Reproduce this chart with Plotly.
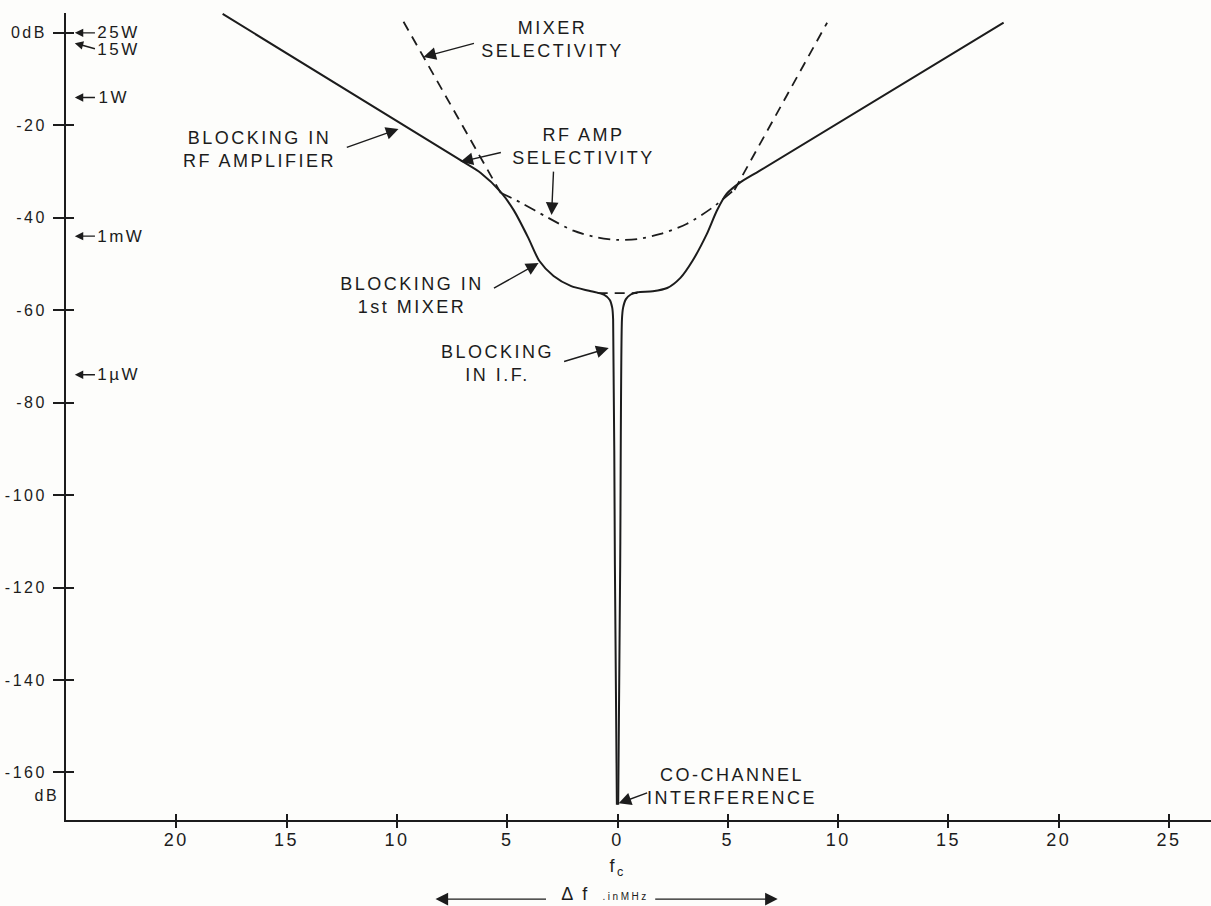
import numpy as np
import plotly.graph_objects as go

INK = "#1c1c1c"
FONT = "Liberation Sans, Arial, sans-serif"

# Frequency offset from the carrier fc (MHz) and interfering level (dB)
# Overall blocking curve, left branch (down into the I.F. notch)
blk_left_f = [-17.9, -7.1, -6.2, -5.3, -4.7, -4.05, -3.55, -2.9, -2.1, -1.2,
              -0.6, -0.35, -0.24, -0.2, -0.12, -0.03]
blk_left_db = [4.1, -27.6, -30.3, -34.4, -38.4, -44.3, -49.3, -52.6, -54.8, -55.9,
               -56.7, -57.8, -59.5, -62.0, -115.0, -167.0]
# Overall blocking curve, right branch (up out of the notch)
blk_right_f = [0.03, 0.12, 0.2, 0.25, 0.38, 0.6, 0.9, 1.6, 2.25, 2.85, 3.4,
               4.05, 4.5, 4.95, 5.55, 6.45, 17.5]
blk_right_db = [-167.0, -115.0, -62.0, -59.5, -57.6, -56.6, -56.1, -55.9, -55.2,
                -53.0, -49.3, -43.5, -38.5, -34.8, -32.4, -29.8, 2.2]

# Mixer selectivity (dashed) - visible skirts and the flat bottom
mix_f = [-9.7, -5.3, None, -0.9, 0.9, None, 5.3, 9.5]
mix_db = [2.4, -34.6, None, -56.3, -56.3, None, -34.0, 2.2]

# RF amplifier selectivity (dash-dot)
rf_f = [-5.3, -4.4, -3.15, -2.0, -0.9, 0.0, 0.9, 1.95, 3.15, 4.3, 5.25]
rf_db = [-34.6, -36.7, -40.0, -42.8, -44.3, -44.8, -44.6, -43.5, -41.3, -37.8, -34.1]

# Axis ticks
x_ticks = [-20, -15, -10, -5, 0, 5, 10, 15, 20, 25]
x_ticktext = [str(abs(v)) for v in x_ticks]
y_ticks = [0, -20, -40, -60, -80, -100, -120, -140, -160]
y_ticktext = ["0dB"] + [str(v) for v in y_ticks[1:]]

# Transmitter powers marked on the level axis (0 dB = 25 W)
power_w = [25, 15, 1, 1e-3, 1e-6]
power_txt = ["25W", "15W", "1W", "1mW", "1µW"]
power_db = [10 * np.log10(p / 25) for p in power_w]

X_RANGE = [-25, 26.9]
Y_RANGE = [-170.3, 4.3]

fig = go.Figure()

line_style = dict(color=INK, width=2)
fig.add_trace(go.Scatter(x=blk_left_f, y=blk_left_db, mode="lines",
                         line=dict(**line_style, shape="spline", smoothing=0.7),
                         hoverinfo="skip"))
fig.add_trace(go.Scatter(x=blk_right_f, y=blk_right_db, mode="lines",
                         line=dict(**line_style, shape="spline", smoothing=0.7),
                         hoverinfo="skip"))
fig.add_trace(go.Scatter(x=mix_f, y=mix_db, mode="lines", connectgaps=False,
                         line=dict(color=INK, width=1.8, dash="10px,7px"),
                         hoverinfo="skip"))
fig.add_trace(go.Scatter(x=rf_f, y=rf_db, mode="lines",
                         line=dict(color=INK, width=1.8, dash="12px,6px,3px,6px",
                                   shape="spline", smoothing=0.8),
                         hoverinfo="skip"))
# empty trace so the overlaid tick axes are drawn
fig.add_trace(go.Scatter(x=[], y=[], xaxis="x2", yaxis="y2", hoverinfo="skip"))


def arrow_style(size=1.8):
    return dict(showarrow=True, arrowhead=2, arrowsize=size, arrowwidth=1.4,
                arrowcolor=INK, standoff=0, startstandoff=0)


def label(text, x, y, size=18, **kw):
    return dict(text=text, x=x, y=y, xref="x", yref="y", showarrow=False,
                font=dict(size=size, color=INK, family=FONT), **kw)


def pointer(tail, tip, size=1.8):
    return dict(text="", x=tip[0], y=tip[1], ax=tail[0], ay=tail[1],
                xref="x", yref="y", axref="x", ayref="y", **arrow_style(size))


annotations = [
    label("MIXER<br>SELECTIVITY", -2.95, -1.4),
    pointer((-6.44, -2.2), (-8.8, -5.2)),
    label("RF AMP<br>SELECTIVITY", -1.54, -24.5),
    pointer((-5.22, -25.8), (-7.12, -27.9)),
    pointer((-2.9, -29.7), (-2.99, -39.4)),
    label("BLOCKING IN<br>RF AMPLIFIER", -16.24, -25.3),
    pointer((-12.34, -24.9), (-9.93, -20.8)),
    label("BLOCKING IN<br>1st MIXER", -9.3, -56.9),
    pointer((-5.67, -55.4), (-3.58, -49.8)),
    label("BLOCKING<br>IN I.F.", -5.44, -71.6),
    pointer((-2.49, -71.2), (-0.4, -68.2)),
    label("CO-CHANNEL<br>INTERFERENCE", 5.17, -163.0),
    pointer((1.41, -164.3), (0.05, -166.7)),
    # unit under the last level tick
    dict(text="dB", x=-0.006, y=-164.9, xref="paper", yref="y", xanchor="right",
         showarrow=False, font=dict(size=16, color=INK, family=FONT)),
    # carrier marker and frequency offset legend below the axis
    dict(text="f<sub>c</sub>", x=0, y=-0.076, xref="x", yref="paper",
         showarrow=False, font=dict(size=18, color=INK, family=FONT)),
    dict(text="Δ f <span style='font-size:10px'> .inMHz</span>", x=-0.55, y=-0.107,
         xref="x", yref="paper", showarrow=False,
         font=dict(size=18, color=INK, family=FONT)),
    dict(text="", x=-8.25, y=-0.098, xref="x", yref="paper", ax=112, ay=0,
         axref="pixel", ayref="pixel", **arrow_style()),
    dict(text="", x=7.26, y=-0.098, xref="x", yref="paper", ax=-124, ay=0,
         axref="pixel", ayref="pixel", **arrow_style()),
]

# power markers along the level axis
for txt, db in zip(power_txt, power_db):
    drop = 1.3 if txt == "15W" else 0.0
    annotations.append(label(txt, -23.5, db - drop, size=17, xanchor="left"))
    annotations.append(pointer((-23.62, db - drop), (-24.6, db), size=1.2))

fig.update_layout(
    width=1211, height=906,
    margin=dict(l=66, r=0, t=13, b=86),
    paper_bgcolor="#fdfdfb", plot_bgcolor="#fdfdfb",
    showlegend=False,
    font=dict(family=FONT, color=INK),
    annotations=annotations,
    xaxis=dict(range=X_RANGE, showgrid=False, zeroline=False, showline=True,
               linecolor=INK, linewidth=1.8, tickvals=x_ticks, ticktext=x_ticktext,
               ticks="outside", ticklen=6, tickwidth=1.6, tickcolor=INK,
               tickfont=dict(size=18, color=INK), ticklabelstandoff=-4),
    yaxis=dict(range=Y_RANGE, showgrid=False, zeroline=False, showline=True,
               linecolor=INK, linewidth=1.8, tickvals=y_ticks, ticktext=y_ticktext,
               ticks="outside", ticklen=11, tickwidth=1.6, tickcolor=INK,
               tickfont=dict(size=16, color=INK), ticklabelstandoff=3),
    xaxis2=dict(range=X_RANGE, overlaying="x", anchor="y", side="bottom",
                showgrid=False, zeroline=False, showline=False, tickvals=x_ticks,
                ticks="inside", ticklen=6, tickwidth=1.6, tickcolor=INK,
                showticklabels=False),
    yaxis2=dict(range=Y_RANGE, overlaying="y", anchor="x", side="left",
                showgrid=False, zeroline=False, showline=False, tickvals=y_ticks,
                ticks="inside", ticklen=8, tickwidth=1.6, tickcolor=INK,
                showticklabels=False),
)

fig.write_html(
    "out.html",
    post_script="var s=document.createElement('style');"
                "s.textContent='.main-svg text{letter-spacing:2.5px}';"
                "document.head.appendChild(s);",
)
